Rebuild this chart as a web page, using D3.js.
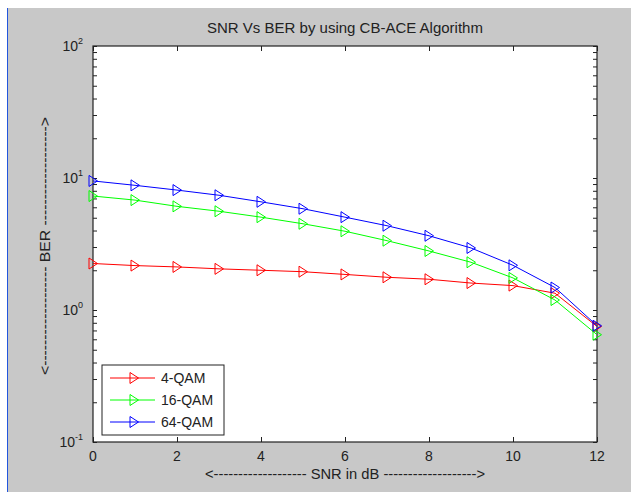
<!DOCTYPE html>
<html>
<head>
<meta charset="utf-8">
<script src="https://cdn.jsdelivr.net/npm/d3@7"></script>
<style>
  body { margin: 0; background: #fff; }
  svg { display: block; font-family: "Liberation Sans", Arial, sans-serif; }
  .axis path, .axis line { stroke: #222; }
</style>
</head>
<body>
<script>
const snr = [0, 1, 2, 3, 4, 5, 6, 7, 8, 9, 10, 11, 12];
const ber4 = [2.25, 2.17, 2.12, 2.05, 2.0, 1.95, 1.86, 1.77, 1.71, 1.6, 1.53, 1.34, 0.75];
const ber16 = [7.3, 6.8, 6.1, 5.6, 5.05, 4.5, 3.95, 3.35, 2.8, 2.3, 1.75, 1.19, 0.65];
const ber64 = [9.5, 8.8, 8.1, 7.4, 6.6, 5.85, 5.05, 4.35, 3.65, 2.95, 2.18, 1.48, 0.76];
const seriesNames = ["4-QAM", "16-QAM", "64-QAM"];
const seriesColors = ["#ff0000", "#00ff00", "#0000ff"];
const xTicks = [0, 2, 4, 6, 8, 10, 12];
const yDecades = [-1, 0, 1, 2];

const W = 631, H = 492;
const margin = {top: 46, right: 34, bottom: 50, left: 93};
const width = W - margin.left - margin.right
  , height = H - margin.top - margin.bottom;

const svg = d3.select("body").append("svg")
  .attr("width", W)
  .attr("height", H);

// figure background with the thin blue border on the left
svg.append("rect").attr("x", 7).attr("y", 8).attr("width", W - 7).attr("height", H - 8).attr("fill", "#c8c8c8");
svg.append("line").attr("x1", 7.5).attr("x2", 7.5).attr("y1", 8).attr("y2", H).attr("stroke", "#2255dd").attr("stroke-width", 1);

const g = svg.append("g").attr("transform", "translate(" + margin.left + "," + margin.top + ")");

const x = d3.scaleLinear().domain([0, 12]).range([0, width]);
const y = d3.scaleLog().domain([0.1, 100]).range([height, 0]);

g.append("rect").attr("width", width).attr("height", height).attr("fill", "#fff");

// ticks (inward, on all four sides)
const yAll = y.ticks();
function addAxis(axis, tr) {
  const a = g.append("g").attr("class", "axis").attr("transform", tr).call(axis);
  a.selectAll("text").remove();
  a.select(".domain").remove();
  return a;
}
addAxis(d3.axisBottom(x).tickValues(xTicks).tickSizeInner(-5).tickSizeOuter(0), "translate(0," + height + ")");
addAxis(d3.axisTop(x).tickValues(xTicks).tickSizeInner(-5).tickSizeOuter(0), "translate(0,0)");
addAxis(d3.axisLeft(y).tickValues(yAll).tickSizeInner(-4).tickSizeOuter(0), "translate(0,0)");
addAxis(d3.axisRight(y).tickValues(yAll).tickSizeInner(-4).tickSizeOuter(0), "translate(" + width + ",0)");

g.append("rect").attr("width", width).attr("height", height)
  .attr("fill", "none").attr("stroke", "#222").attr("stroke-width", 1.2);

// x tick labels
g.selectAll(".xlab").data(xTicks).enter().append("text")
  .attr("x", d => x(d)).attr("y", height + 19)
  .attr("text-anchor", "middle").attr("font-size", 14).attr("fill", "#222")
  .text(d => d);

// y tick labels 10^n
yDecades.forEach(function(e) {
  const t = g.append("text").attr("x", -10).attr("y", y(Math.pow(10, e)) + 5)
    .attr("text-anchor", "end").attr("font-size", 14).attr("fill", "#222");
  t.append("tspan").text("10");
  t.append("tspan").attr("font-size", 9).attr("dy", -7).text(e);
});

// titles
svg.append("text").attr("x", margin.left + width / 2).attr("y", 33)
  .attr("text-anchor", "middle").attr("font-size", 15).attr("fill", "#222")
  .text("SNR Vs BER by using CB-ACE Algorithm");
svg.append("text").attr("x", margin.left + width / 2).attr("y", 479)
  .attr("text-anchor", "middle").attr("font-size", 14).attr("fill", "#222")
  .attr("textLength", 280).attr("lengthAdjust", "spacingAndGlyphs")
  .text("<------------------- SNR in dB ------------------->");
svg.append("text").attr("transform", "translate(50,246) rotate(-90)")
  .attr("text-anchor", "middle").attr("font-size", 14).attr("fill", "#222")
  .attr("textLength", 258).attr("lengthAdjust", "spacingAndGlyphs")
  .text("<------------------- BER ------------------->");

// lines and markers
const series = [ber4, ber16, ber64];
const line = d3.line().x((d, i) => x(snr[i])).y(d => y(d));
const tri = "M-4,-5.5L4.5,0L-4,5.5Z";

series.forEach(function(vals, k) {
  g.append("path").datum(vals).attr("d", line)
    .attr("fill", "none").attr("stroke", seriesColors[k]).attr("stroke-width", 1);
  g.selectAll(".m" + k).data(vals).enter().append("path")
    .attr("class", "m" + k)
    .attr("transform", (d, i) => "translate(" + x(snr[i]) + "," + y(d) + ")")
    .attr("d", tri).attr("fill", "none").attr("stroke", seriesColors[k]).attr("stroke-width", 1);
});

// legend
const lg = svg.append("g").attr("transform", "translate(102,365)");
lg.append("rect").attr("width", 122).attr("height", 70).attr("fill", "#fff").attr("stroke", "#222");
seriesNames.forEach(function(name, k) {
  const yy = 13 + k * 22;
  lg.append("line").attr("x1", 8).attr("x2", 53).attr("y1", yy).attr("y2", yy)
    .attr("stroke", seriesColors[k]);
  lg.append("path").attr("transform", "translate(32," + yy + ")").attr("d", tri)
    .attr("fill", "none").attr("stroke", seriesColors[k]);
  lg.append("text").attr("x", 59).attr("y", yy + 5).attr("font-size", 14).attr("fill", "#222").text(name);
});
</script>
</body>
</html>
